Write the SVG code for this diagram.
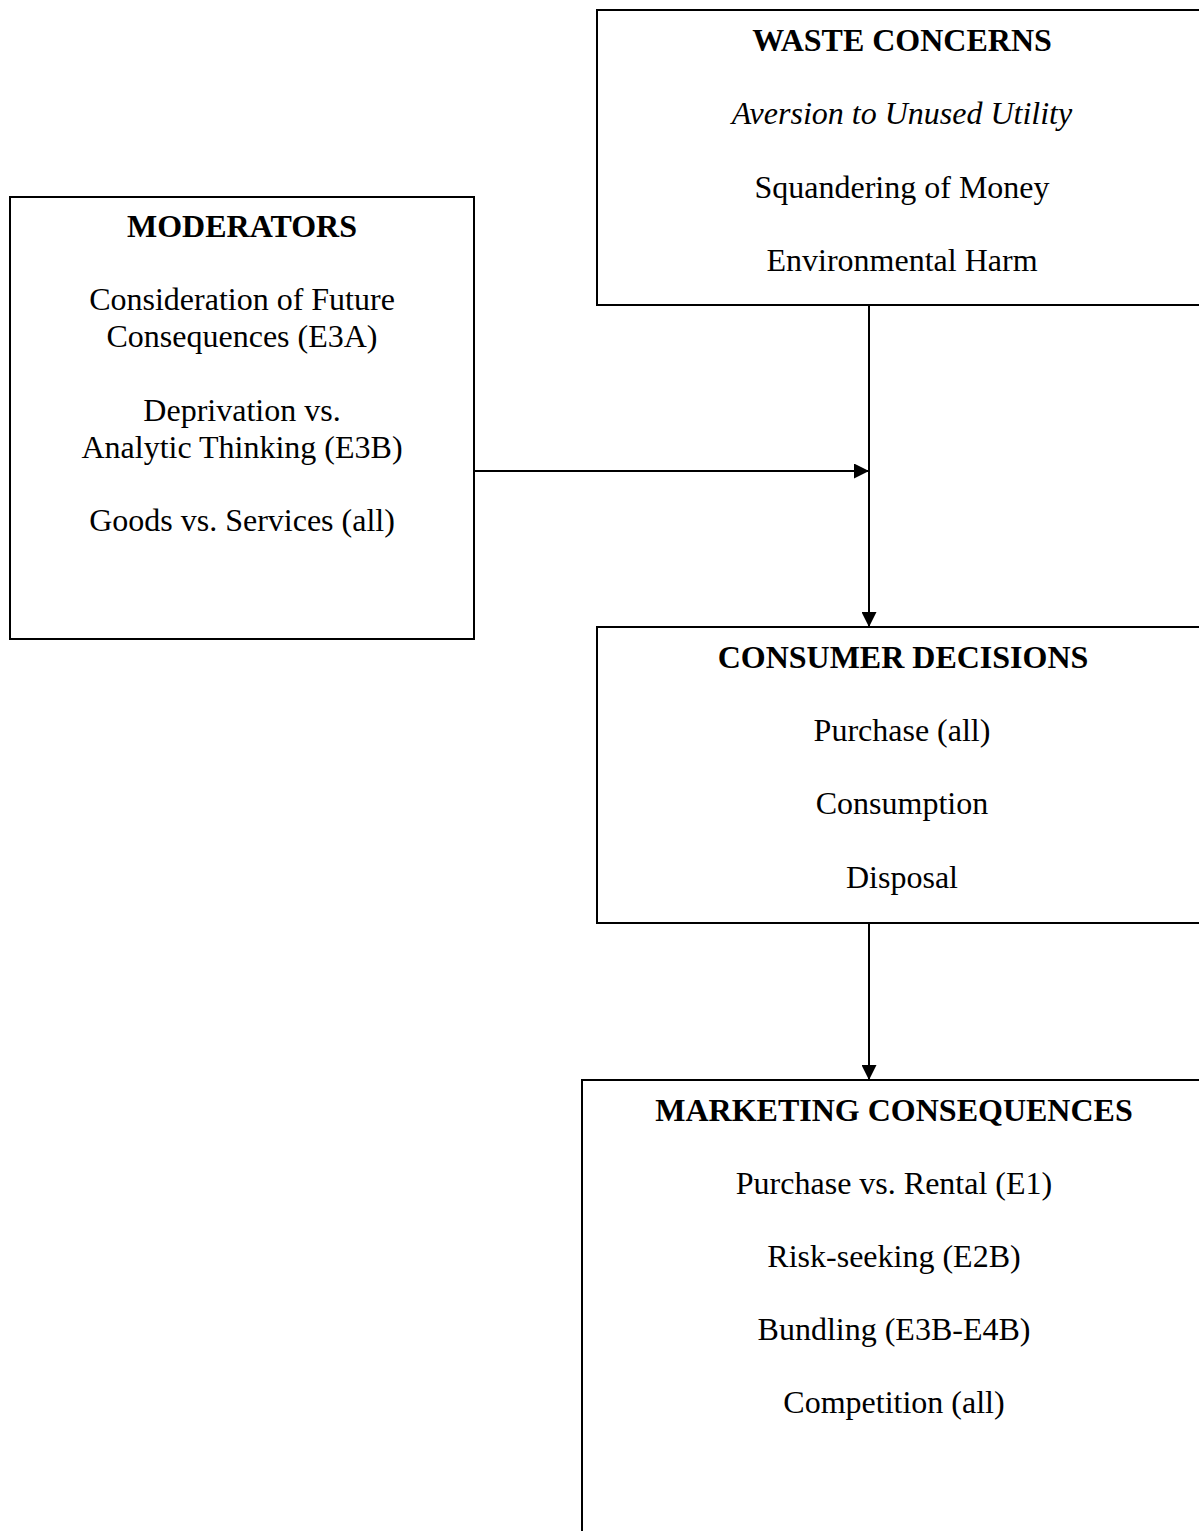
<svg xmlns="http://www.w3.org/2000/svg" width="1199" height="1531" viewBox="0 0 1199 1531">
<style>
.box{fill:#fff;stroke:#000;stroke-width:2}
text{font-family:"Liberation Serif","Times New Roman",serif;font-size:32px;fill:#000;text-anchor:middle}
.t{font-weight:bold}
.i{font-style:italic}
.c{stroke:#000;stroke-width:2;fill:none}
</style>
<defs>
<marker id="ah" markerWidth="15" markerHeight="15" refX="15" refY="7.5" orient="auto" markerUnits="userSpaceOnUse">
<path d="M0,0 L15,7.5 L0,15 Z" fill="#000"/>
</marker>
</defs>
<rect width="1199" height="1531" fill="#fff"/>
<g id="waste">
<rect class="box" x="597" y="10" width="612" height="295"/>
<text class="t" x="902" y="51">WASTE CONCERNS</text>
<text class="i" x="902" y="124">Aversion to Unused Utility</text>
<text x="902" y="198">Squandering of Money</text>
<text x="902" y="271">Environmental Harm</text>
</g>
<g id="moderators">
<rect class="box" x="10" y="197" width="464" height="442"/>
<text class="t" x="242" y="237">MODERATORS</text>
<text x="242" y="310">Consideration of Future</text>
<text x="242" y="347">Consequences (E3A)</text>
<text x="242" y="421">Deprivation vs.</text>
<text x="242" y="458">Analytic Thinking (E3B)</text>
<text x="242" y="531">Goods vs. Services (all)</text>
</g>
<g id="consumer">
<rect class="box" x="597" y="627" width="612" height="296"/>
<text class="t" x="903" y="668">CONSUMER DECISIONS</text>
<text x="902" y="741">Purchase (all)</text>
<text x="902" y="814">Consumption</text>
<text x="902" y="888">Disposal</text>
</g>
<g id="marketing">
<rect class="box" x="582" y="1080" width="627" height="470"/>
<text class="t" x="894" y="1121">MARKETING CONSEQUENCES</text>
<text x="894" y="1194">Purchase vs. Rental (E1)</text>
<text x="894" y="1267">Risk-seeking (E2B)</text>
<text x="894" y="1340">Bundling (E3B-E4B)</text>
<text x="894" y="1413">Competition (all)</text>
</g>
<g id="connectors">
<line class="c" x1="869" y1="305" x2="869" y2="627" marker-end="url(#ah)"/>
<line class="c" x1="474" y1="471" x2="869" y2="471" marker-end="url(#ah)"/>
<line class="c" x1="869" y1="923" x2="869" y2="1080" marker-end="url(#ah)"/>
</g>
</svg>
